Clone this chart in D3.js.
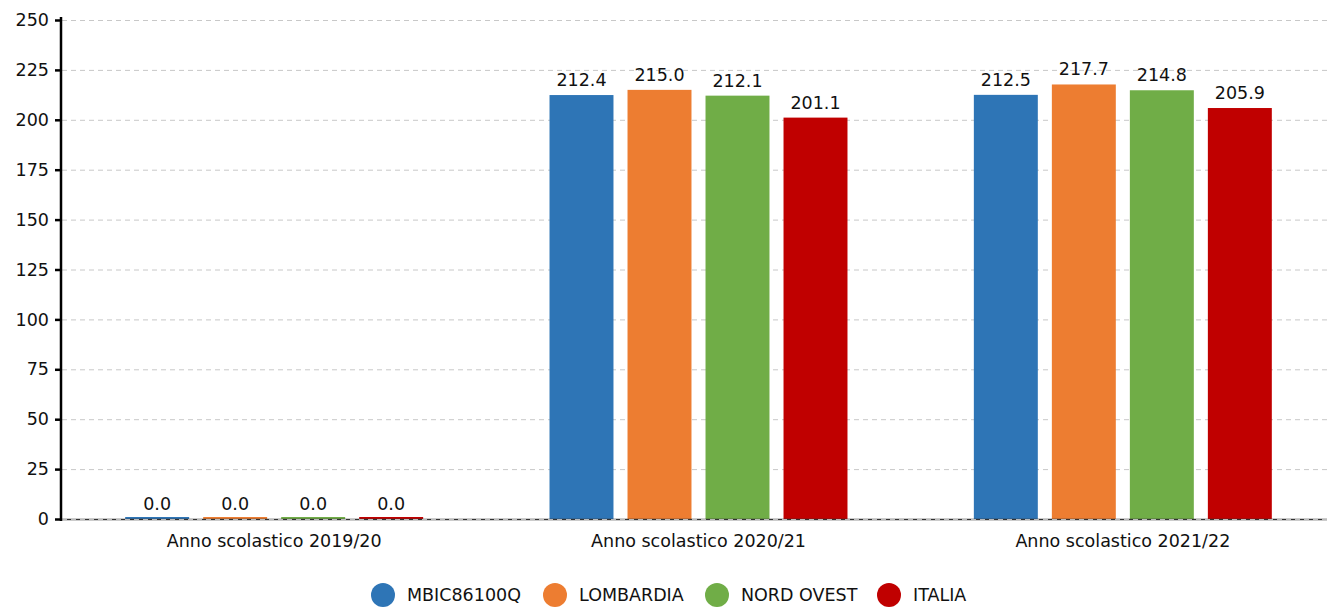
<!DOCTYPE html>
<html>
<head>
<meta charset="utf-8">
<script src="https://cdn.jsdelivr.net/npm/d3@7"></script>
<style>
  body { margin: 0; background: #fff; }
  svg { font-family: "DejaVu Sans", sans-serif; }
</style>
</head>
<body>
<svg width="1327" height="608"></svg>
<script>
// chart data
var years = ["Anno scolastico 2019/20", "Anno scolastico 2020/21", "Anno scolastico 2021/22"];
var seriesNames = ["MBIC86100Q", "LOMBARDIA", "NORD OVEST", "ITALIA"];
var seriesColors = ["#2e75b6", "#ed7d31", "#70ad47", "#c00000"];
var mbic = [0.0, 212.4, 212.5];
var lombardia = [0.0, 215.0, 217.7];
var nordOvest = [0.0, 212.1, 214.8];
var italia = [0.0, 201.1, 205.9];
var yTicks = [0, 25, 50, 75, 100, 125, 150, 175, 200, 225, 250];

var values = [mbic, lombardia, nordOvest, italia];

var svg = d3.select("svg");
var fs = 17.5;
var mLeft = 62, mRight = 1335, mTop = 20, mBottom = 519;

var x0 = d3.scaleBand().domain(years).range([mLeft, mRight]);
var x1 = d3.scaleBand().domain(seriesNames).range([0, x0.bandwidth()]).paddingInner(0.18).paddingOuter(0.81);
var y = d3.scaleLinear().domain([0, 250]).range([mBottom, mTop]);

// grid
svg.append('g').selectAll('line').data(yTicks).enter()
  .append('line')
    .attr('x1', mLeft).attr('x2', 1327)
    .attr('y1', function(d){return y(d) + 0.5;}).attr('y2', function(d){return y(d) + 0.5;})
    .attr('stroke', '#c8c8c8').attr('stroke-dasharray', '5,4');

// bars
var groups = svg.append('g').selectAll('g').data(years).enter()
  .append('g').attr('transform', function(d){return 'translate(' + x0(d) + ',0)';});

groups.selectAll('rect').data(function(d, i){
    return seriesNames.map(function(s, j){ return {name: s, value: values[j][i], color: seriesColors[j]}; });
  }).enter()
  .append('rect')
    .attr('x', function(d){return x1(d.name);})
    .attr('width', x1.bandwidth())
    .attr('y', function(d){return Math.min(y(d.value), mBottom - 2);})
    .attr('height', function(d){return Math.max(mBottom - y(d.value), 2);})
    .attr('fill', function(d){return d.color;});

groups.selectAll('text').data(function(d, i){
    return seriesNames.map(function(s, j){ return {name: s, value: values[j][i]}; });
  }).enter()
  .append('text')
    .attr('x', function(d){return x1(d.name) + x1.bandwidth()/2;})
    .attr('y', function(d){return y(d.value) - 9;})
    .attr('text-anchor', 'middle')
    .attr('font-size', fs)
    .attr('fill', '#111')
    .text(function(d){return d.value.toFixed(1);});

// baseline
svg.append('line').attr('x1', mLeft).attr('x2', 1327).attr('y1', mBottom + 0.5).attr('y2', mBottom + 0.5)
  .attr('stroke', '#333').attr('stroke-width', 1.5);
svg.append('line').attr('x1', mLeft).attr('x2', 1327).attr('y1', mBottom + 0.5).attr('y2', mBottom + 0.5)
  .attr('stroke', '#bbb').attr('stroke-dasharray', '5,4');

// y axis
var yAxis = svg.append('g').attr('transform', 'translate(' + (mLeft - 1) + ',0)')
  .call(d3.axisLeft(y).tickValues(yTicks).tickSize(6).tickPadding(6));
yAxis.select('.domain').attr('stroke', '#000').attr('stroke-width', 2.5).attr('d', 'M0,' + (mTop - 3) + 'V' + (mBottom + 2));
yAxis.selectAll('.tick line').attr('stroke', '#000').attr('stroke-width', 2.5);
yAxis.selectAll('.tick text').attr('font-size', fs).attr('fill', '#111').attr('font-family', '"DejaVu Sans", sans-serif');

// x axis labels
var xAxis = svg.append('g').attr('transform', 'translate(0,' + mBottom + ')')
  .call(d3.axisBottom(x0).tickSize(0).tickPadding(16));
xAxis.select('.domain').remove();
xAxis.selectAll('.tick text').attr('font-size', fs).attr('fill', '#111').attr('font-family', '"DejaVu Sans", sans-serif');

// legend
var legendX = [383, 555, 717, 889];
var legend = svg.append('g').selectAll('g').data(seriesNames).enter()
  .append('g').attr('transform', function(d, i){return 'translate(' + legendX[i] + ',595)';});
legend.append('circle').attr('r', 12).attr('fill', function(d, i){return seriesColors[i];});
legend.append('text').attr('x', 24).attr('dy', '0.35em').attr('font-size', fs).attr('fill', '#111')
  .text(function(d){return d;});
</script>
</body>
</html>
